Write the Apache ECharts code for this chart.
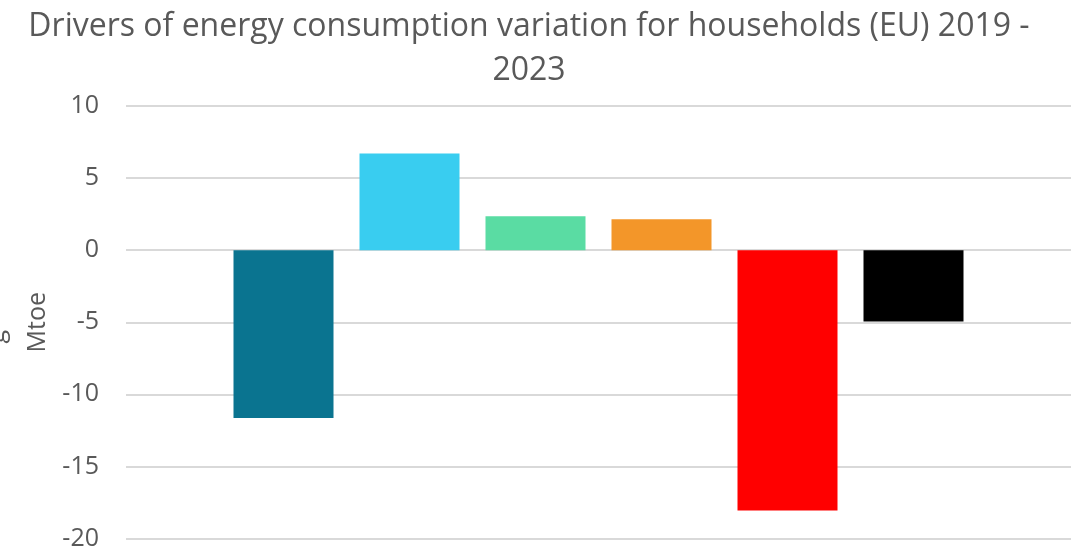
<!DOCTYPE html>
<html>
<head>
<meta charset="utf-8">
<script src="https://cdn.jsdelivr.net/npm/echarts@6/dist/echarts.min.js"></script>
<style>
  html, body { margin: 0; padding: 0; background: #fff; }
  #chart { width: 1071px; height: 551px; }
</style>
</head>
<body>
<div id="chart"></div>
<script>
// one category, each driver drawn as its own series (Excel style)
const categories = ['2019 - 2023'];
const driverNames = ['Driver 1', 'Driver 2', 'Driver 3', 'Driver 4', 'Driver 5', 'Driver 6'];
const driverValues = [-11.65, 6.7, 2.35, 2.15, -18.05, -4.95];
const driverColors = ['#0a7490', '#39cdf0', '#5adca3', '#f39629', '#ff0000', '#000000'];
const yTicks = { min: -20, max: 10, interval: 5 };

const fontFamily = '"Open Sans", "Noto Sans", sans-serif';

let chart = echarts.init(document.getElementById('chart'));

let series = driverNames.map((name, i) => ({
  name: name,
  type: 'bar',
  barWidth: 100,
  barGap: '26%',
  data: [driverValues[i]],
  itemStyle: { color: driverColors[i] }
}));

let options = {
  animation: false,
  title: {
    text: 'Drivers of energy consumption variation for households (EU) 2019 -\n2023',
    left: 524,
    textAlign: 'center',
    top: 0,
    textStyle: {
      color: '#595959',
      fontSize: 32,
      fontWeight: 'normal',
      fontFamily: fontFamily,
      lineHeight: 44
    }
  },
  grid: {
    left: 126,
    top: 106,
    width: 951,
    height: 436
  },
  xAxis: {
    type: 'category',
    data: categories,
    axisLine: { show: false },
    axisTick: { show: false },
    axisLabel: { show: false }
  },
  yAxis: {
    type: 'value',
    min: yTicks.min,
    max: yTicks.max,
    interval: yTicks.interval,
    name: 'Mtoe',
    nameLocation: 'middle',
    nameGap: 76,
    nameTextStyle: {
      color: '#595959',
      fontSize: 25,
      fontFamily: fontFamily
    },
    axisLine: { show: false },
    axisTick: { show: false },
    splitLine: {
      lineStyle: { color: '#d9d9d9', width: 2 }
    },
    axisLabel: {
      color: '#595959',
      fontSize: 25,
      fontFamily: fontFamily,
      margin: 27
    }
  },
  graphic: [{
    type: 'text',
    left: -16,
    top: 330,
    rotation: Math.PI / 2,
    style: {
      text: 'g',
      fill: '#595959',
      font: '25px ' + fontFamily
    }
  }],
  series: series
};
chart.setOption(options);
</script>
</body>
</html>
